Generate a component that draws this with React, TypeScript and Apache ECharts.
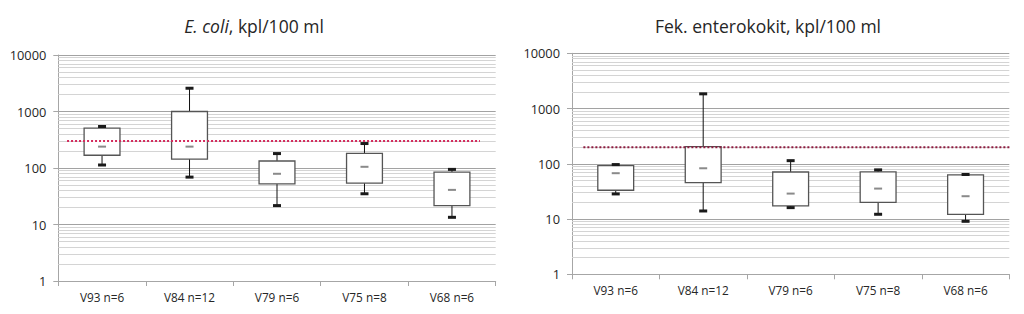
import React, { useEffect, useRef } from "react";
import * as echarts from "echarts";

const categories = ["V93 n=6", "V84 n=12", "V79 n=6", "V75 n=8", "V68 n=6"];

// E. coli, kpl/100 ml
const ecoliMin = [113, 69, 21.6, 35, 13.4];
const ecoliQ1 = [168, 144, 52.5, 54, 21.6];
const ecoliMedian = [239, 239, 79, 105, 41];
const ecoliQ3 = [507, 1000, 133, 182, 84.5];
const ecoliMax = [543, 2580, 180, 271, 94.5];

// Fek. enterokokit, kpl/100 ml
const entMin = [28.5, 14, 16.1, 12.2, 9.1];
const entQ1 = [33.2, 45.6, 17.3, 20.1, 12.2];
const entMedian = [67.6, 83, 28.9, 35.6, 25.9];
const entQ3 = [92.7, 205, 71, 71.3, 63];
const entMax = [96.8, 1846, 114, 77.6, 64];

// reference limits and the span of their dotted lines (in category units 0..5)
const ecoliLimit = 300;
const ecoliLimitSpan = [0.1, 4.82];
const entLimit = 200;
const entLimitSpan = [0.13, 5.06];

const yTickLabels = [1, 10, 100, 1000, 10000];
const minorGridValues = [2, 3, 4, 5, 6, 7, 8, 9, 20, 30, 40, 50, 60, 70, 80, 90, 200, 300, 400, 500, 600, 700, 800, 900, 2000, 3000, 4000, 5000, 6000, 7000, 8000, 9000];

const FONT = "'Open Sans', 'Liberation Sans', sans-serif";
const TEXT = "#262626";

function boxData(mn: number[], q1: number[], md: number[], q3: number[], mx: number[]) {
  return categories.map((_, i) => [i, mn[i], q1[i], md[i], q3[i], mx[i]]);
}

function renderBox(params: any, api: any) {
  const i = api.value(0);
  const pMin = api.coord([i, api.value(1)]);
  const pQ1 = api.coord([i, api.value(2)]);
  const pMed = api.coord([i, api.value(3)]);
  const pQ3 = api.coord([i, api.value(4)]);
  const pMax = api.coord([i, api.value(5)]);
  const cs = params.coordSys;
  const bw = (cs.width / categories.length) * 0.41;
  const cx = pMed[0];
  const capW = 8;
  return {
    type: "group",
    children: [
      { type: "line", shape: { x1: cx, y1: pQ3[1], x2: cx, y2: pMax[1] }, style: { stroke: "#111", lineWidth: 1 } },
      { type: "line", shape: { x1: cx, y1: pQ1[1], x2: cx, y2: pMin[1] }, style: { stroke: "#111", lineWidth: 1 } },
      {
        type: "rect",
        shape: { x: cx - bw / 2, y: pQ3[1], width: bw, height: pQ1[1] - pQ3[1] },
        style: { fill: "#ffffff", stroke: "#555555", lineWidth: 1.3 },
      },
      { type: "rect", shape: { x: cx - capW / 2, y: pMax[1] - 1.5, width: capW, height: 3 }, style: { fill: "#1a1a1a" } },
      { type: "rect", shape: { x: cx - capW / 2, y: pMin[1] - 1.5, width: capW, height: 3 }, style: { fill: "#1a1a1a" } },
      { type: "rect", shape: { x: cx - 4, y: pMed[1] - 1, width: 8, height: 2 }, style: { fill: "#8a8a8a" } },
    ],
  };
}

function makeXAxis(gridIndex: number) {
  return {
    type: "category",
    gridIndex,
    data: categories,
    boundaryGap: true,
    axisLine: { show: true, lineStyle: { color: "#a6a6a6", width: 1 } },
    axisTick: { show: true, length: 5, alignWithLabel: false, lineStyle: { color: "#a6a6a6" } },
    axisLabel: { color: TEXT, fontFamily: FONT, fontSize: 11.8, margin: 10 },
    splitLine: { show: false },
  };
}

function makeYAxis(gridIndex: number) {
  return {
    type: "log",
    logBase: 10,
    gridIndex,
    min: yTickLabels[0],
    max: yTickLabels[yTickLabels.length - 1],
    axisLine: { show: true, lineStyle: { color: "#a6a6a6", width: 1 } },
    axisTick: { show: true, length: 5, lineStyle: { color: "#a6a6a6" } },
    axisLabel: {
      color: TEXT,
      fontFamily: FONT,
      fontSize: 12.8,
      margin: 12,
      formatter: (v: number) => String(Math.round(v)),
    },
    splitLine: { show: true, lineStyle: { color: "#a2a2a2", width: 1 } },
  };
}

function minorSeries(idx: number) {
  return {
    type: "line",
    xAxisIndex: idx,
    yAxisIndex: idx,
    data: [],
    z: 1,
    silent: true,
    markLine: {
      z: 1,
      silent: true,
      symbol: ["none", "none"],
      label: { show: false },
      emphasis: { disabled: true },
      lineStyle: { color: "#d4d4d4", width: 1, type: "solid" },
      data: minorGridValues.map((v) => ({ yAxis: v })),
    },
  };
}

export default function App() {
  const ref = useRef<HTMLDivElement>(null);
  useEffect(() => {
    if (!ref.current) return;
    const chart = echarts.init(ref.current, null, { renderer: "svg" });
    const option: any = {
      animation: false,
      backgroundColor: "#ffffff",
      grid: [
        { left: 58.3, right: 528.3, top: 55, bottom: 33 },
        { left: 572, right: 14.7, top: 53.3, bottom: 39.7 },
      ],
      xAxis: [
        makeXAxis(0),
        makeXAxis(1),
        { type: "value", gridIndex: 0, min: 0, max: categories.length, show: false },
        { type: "value", gridIndex: 1, min: 0, max: categories.length, show: false },
      ],
      yAxis: [makeYAxis(0), makeYAxis(1)],
      graphic: [
        {
          type: "text",
          x: 254,
          y: 26,
          style: {
            text: "{i|E. coli}, kpl/100 ml",
            rich: { i: { fontStyle: "italic", fontFamily: FONT, fontSize: 17.5, fill: TEXT } },
            fontFamily: FONT,
            fontSize: 17.5,
            fill: TEXT,
            align: "center",
            verticalAlign: "middle",
          },
        },
        {
          type: "text",
          x: 768,
          y: 26,
          style: {
            text: "Fek. enterokokit, kpl/100 ml",
            fontFamily: FONT,
            fontSize: 17.5,
            fill: TEXT,
            align: "center",
            verticalAlign: "middle",
          },
        },
      ],
      series: [
        minorSeries(0),
        minorSeries(1),
        {
          type: "custom",
          xAxisIndex: 0,
          yAxisIndex: 0,
          z: 3,
          silent: true,
          renderItem: renderBox,
          encode: { x: 0, y: [1, 2, 3, 4, 5] },
          data: boxData(ecoliMin, ecoliQ1, ecoliMedian, ecoliQ3, ecoliMax),
        },
        {
          type: "custom",
          xAxisIndex: 1,
          yAxisIndex: 1,
          z: 3,
          silent: true,
          renderItem: renderBox,
          encode: { x: 0, y: [1, 2, 3, 4, 5] },
          data: boxData(entMin, entQ1, entMedian, entQ3, entMax),
        },
        {
          type: "line",
          xAxisIndex: 2,
          yAxisIndex: 0,
          z: 5,
          clip: false,
          silent: true,
          symbol: "none",
          lineStyle: { color: "#d42a5c", width: 2, type: "dotted" },
          data: ecoliLimitSpan.map((x) => [x, ecoliLimit]),
        },
        {
          type: "line",
          xAxisIndex: 3,
          yAxisIndex: 1,
          z: 5,
          clip: false,
          silent: true,
          symbol: "none",
          lineStyle: { color: "#8e1c40", width: 2, type: "dotted" },
          data: entLimitSpan.map((x) => [x, entLimit]),
        },
      ],
    };
    chart.setOption(option);
    return () => chart.dispose();
  }, []);
  return (
    <div
      ref={ref}
      style={{ position: "absolute", left: 0, top: 0, width: 1024, height: 314, background: "#fff" }}
    />
  );
}
